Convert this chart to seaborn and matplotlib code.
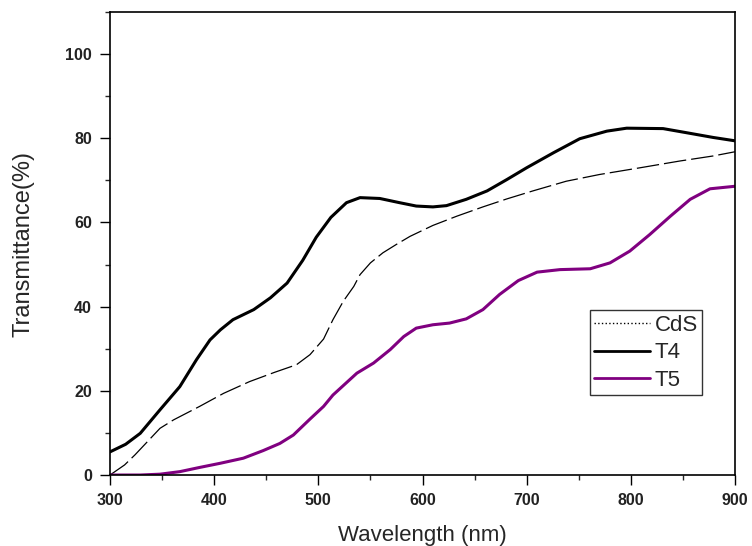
import numpy as np
import pandas as pd
import matplotlib
matplotlib.use('Agg')
import matplotlib.pyplot as plt
from matplotlib.lines import Line2D
from matplotlib.ticker import MultipleLocator
import seaborn as sns

# values (wavelength nm, transmittance %)
wl_cds = [300, 314, 324, 348, 361, 386, 409, 434, 458, 479, 492, 505, 514, 524, 534,
          540, 550, 562, 575, 588, 610, 633, 658, 681, 706, 738, 770, 809, 847, 879, 900]
t_cds = [0, 2.4, 4.8, 11.1, 13.1, 16.3, 19.4, 22.2, 24.4, 26.2, 28.6, 32.3, 36.9, 41.3, 44.8,
         47.6, 50.4, 52.8, 54.8, 56.7, 59.3, 61.5, 63.7, 65.6, 67.5, 69.8, 71.4, 73.0, 74.6, 75.8, 76.8]

wl_t4 = [300, 315, 329, 348, 367, 383, 396, 406, 418, 438, 454, 470, 485, 498, 512, 527,
         540, 559, 578, 594, 610, 623, 642, 662, 681, 700, 726, 751, 777, 796, 831, 854, 879, 900]
t_t4 = [5.5, 7.3, 9.9, 15.5, 21.0, 27.4, 32.1, 34.5, 36.9, 39.3, 42.1, 45.6, 51.0, 56.5, 61.2, 64.7,
        65.9, 65.7, 64.7, 63.9, 63.7, 64.0, 65.5, 67.5, 70.2, 73.0, 76.6, 79.9, 81.7, 82.4, 82.3, 81.3, 80.2, 79.4]

wl_t5 = [300, 329, 348, 367, 386, 406, 428, 447, 463, 476, 492, 505, 514, 537, 553,
         569, 582, 594, 610, 626, 642, 658, 674, 692, 710, 732, 761, 780, 799, 818, 838, 857, 876, 900]
t_t5 = [0, 0, 0.2, 0.8, 1.8, 2.8, 4.0, 5.8, 7.5, 9.5, 13.3, 16.3, 19.0, 24.2, 26.6,
        29.8, 32.9, 34.9, 35.7, 36.1, 37.1, 39.3, 42.9, 46.2, 48.2, 48.8, 49.0, 50.4, 53.2, 57.1, 61.5, 65.5, 68.0, 68.6]

df = pd.concat([
    pd.DataFrame({'wl': wl_cds, 't': t_cds, 'sample': 'CdS'}),
    pd.DataFrame({'wl': wl_t4, 't': t_t4, 'sample': 'T4'}),
    pd.DataFrame({'wl': wl_t5, 't': t_t5, 'sample': 'T5'}),
])

sns.set_style('ticks')
plt.rcParams['font.family'] = ['Liberation Sans', 'DejaVu Sans']

fig = plt.figure(figsize=(7.52, 5.46), dpi=100)
ax = fig.add_axes([0.1463, 0.130, 0.8311, 0.848])

colors = {'CdS': 'black', 'T4': 'black', 'T5': '#800080'}
widths = {'CdS': 0.9, 'T4': 2.2, 'T5': 2.2}
for name in ['CdS', 'T4', 'T5']:
    sub = df[df['sample'] == name]
    sns.lineplot(data=sub, x='wl', y='t', ax=ax, color=colors[name],
                 lw=widths[name], legend=False)
lines = ax.get_lines()
lines[0].set_dashes([18, 4])

ax.set_xlim(300, 900)
ax.set_ylim(0, 110)
ax.xaxis.set_major_locator(MultipleLocator(100))
ax.xaxis.set_minor_locator(MultipleLocator(50))
ax.yaxis.set_major_locator(MultipleLocator(20))
ax.yaxis.set_minor_locator(MultipleLocator(10))
ax.tick_params(which='major', direction='out', length=7, width=1, labelsize=11.5,
               colors='black', pad=6)
ax.tick_params(which='minor', direction='out', length=3.5, width=1)
for lab in ax.get_xticklabels() + ax.get_yticklabels():
    lab.set_fontweight('bold')
    lab.set_color('#222222')
for s in ax.spines.values():
    s.set_linewidth(1.2)
    s.set_color('black')

ax.set_xlabel('Wavelength (nm)', fontsize=16, labelpad=12)
ax.set_ylabel('Transmittance(%)', fontsize=17, labelpad=22)

handles = [Line2D([], [], color='black', lw=1, ls=':'),
           Line2D([], [], color='black', lw=2),
           Line2D([], [], color='#800080', lw=2)]
leg = ax.legend(handles, ['CdS', 'T4', 'T5'], loc='upper left',
                bbox_to_anchor=(0.768, 0.356), fontsize=16, frameon=True,
                fancybox=False, edgecolor='black', handlelength=2.5,
                handletextpad=0.2, borderpad=0.2, labelspacing=0.3,
                borderaxespad=0)
leg.get_frame().set_linewidth(1)

fig.savefig('out.png', dpi=100)
